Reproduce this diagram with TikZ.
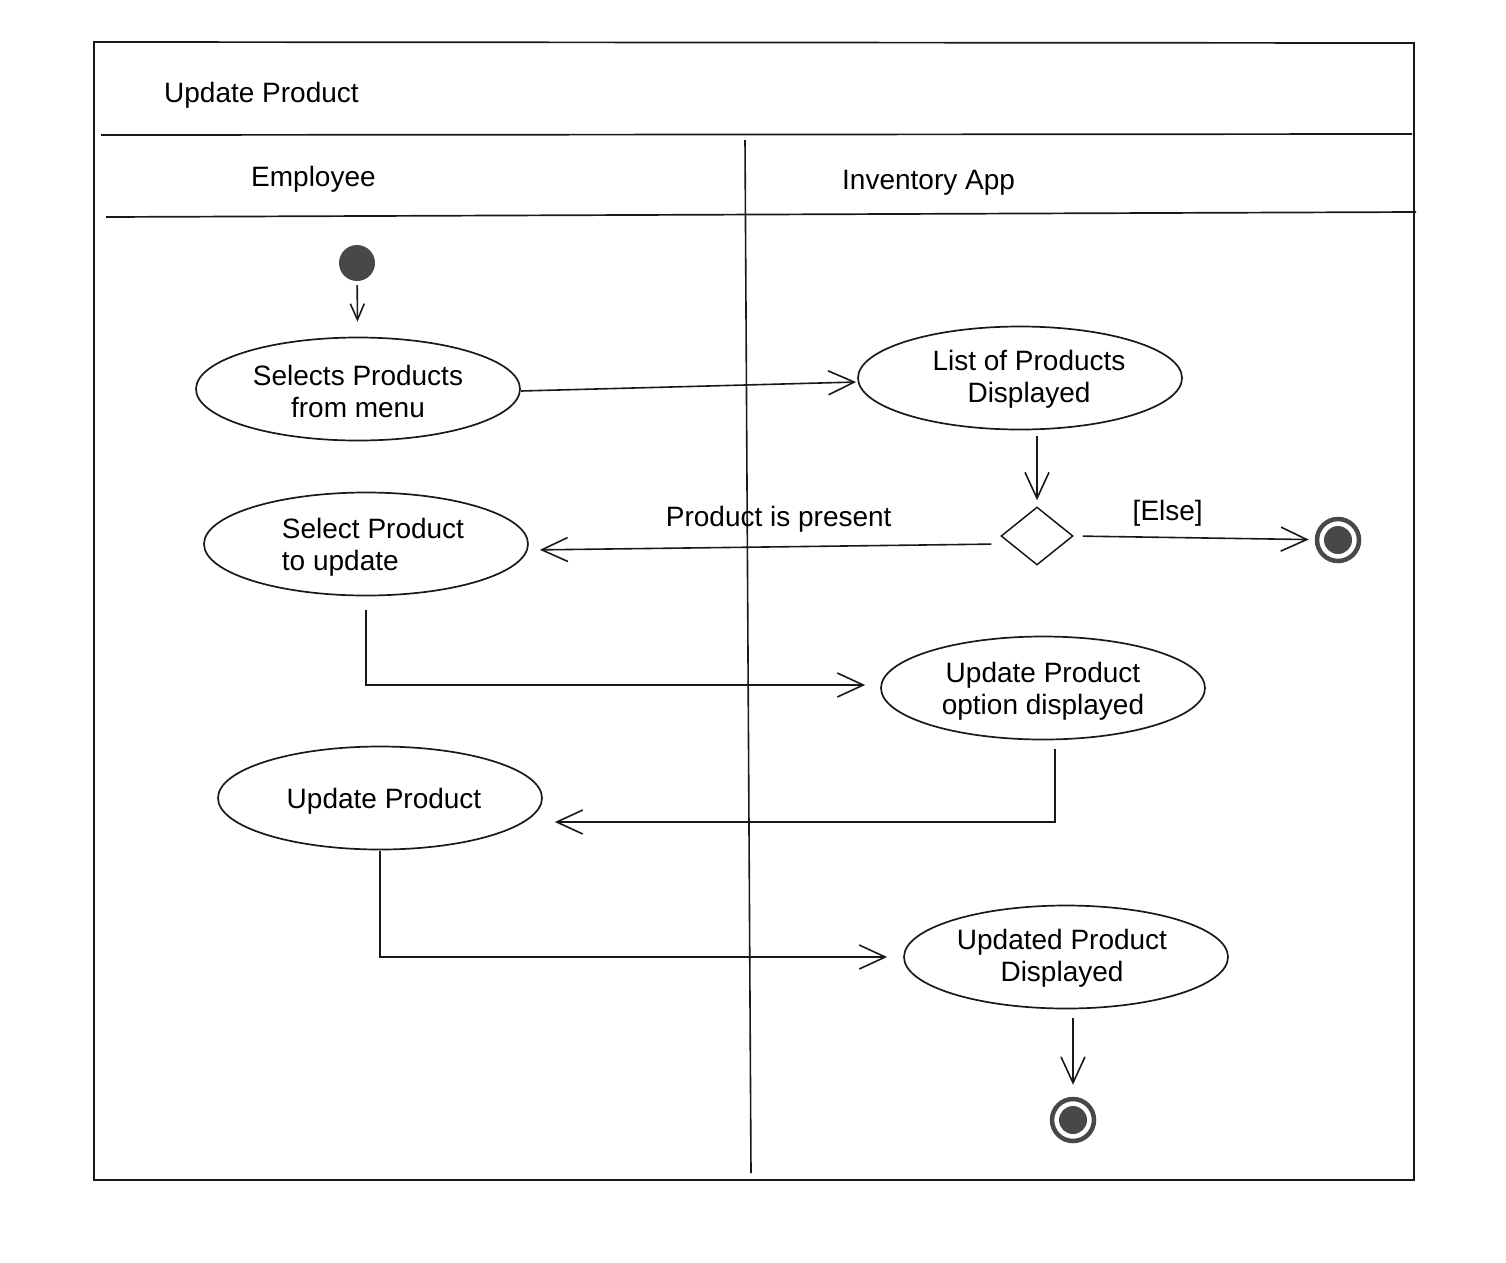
\documentclass[tikz,border=0pt]{standalone}
\usepackage{fontspec}
\setmainfont{Liberation Sans}
\usetikzlibrary{shapes.geometric,arrows.meta}
\definecolor{dk}{RGB}{72,72,72}
\definecolor{ink}{RGB}{25,25,25}
\begin{document}
\begin{tikzpicture}[x=1pt,y=-1pt,
  font=\fontsize{28}{32}\selectfont,
  frameline/.style={line width=1.7pt, draw=ink},
  act/.style={ellipse, draw=ink, line width=1.7pt, minimum width=324pt, minimum height=103pt, inner sep=0pt},
  txt/.style={align=center, inner sep=0pt},
  hdr/.style={anchor=west, inner sep=0pt},
  lbl/.style={inner sep=0pt},
  decision/.style={diamond, draw=ink, line width=1.5pt, minimum width=72pt, minimum height=58pt, inner sep=0pt},
  startnode/.style={circle, fill=dk, minimum size=36pt, inner sep=0pt},
  endnode/.style={circle, draw=dk, line width=4.5pt, minimum size=42pt, inner sep=0pt,
    path picture={\fill[dk] (path picture bounding box.center) circle (14pt);}},
  flow/.style={line width=1.6pt, draw=ink, -{Straight Barb[length=26pt,width=24pt]}},
  smallflow/.style={line width=1.6pt, draw=ink, -{Straight Barb[length=16pt,width=14pt]}}
]
\useasboundingbox (0,0) rectangle (1506,1262);

% frame
\draw[frameline] (94,42) -- (1414,43) -- (1414,1180) -- (94,1180) -- cycle;
\draw[frameline] (101,135) -- (1412,134);
\draw[frameline] (106,217) -- (1416,212);
\draw[line width=1.6pt, draw=ink] (745,140) -- (751,1173);

% headers
\node[hdr] (title) at (164,95) {Update Product};
\node[hdr] (lane1) at (251,179) {Employee};
\node[hdr] (lane2) at (842,183) {Inventory App};

% nodes
\node[startnode] (start) at (357,263) {};
\node[act] (e1) at (358,389) {};
\node[txt] (t1) at (358,391) {Selects Products\\from menu};
\node[act] (e2) at (1020,378) {};
\node[txt] (t2) at (1029,379) {List of Products\\Displayed};
\node[decision] (dia) at (1037,536) {};
\node[endnode] (end1) at (1338,540) {};
\node[act] (e3) at (366,544) {};
\node[txt, align=left] (t3) at (373,547) {Select Product\\to update};
\node[act] (e4) at (1043,688) {};
\node[txt] (t4) at (1043,691) {Update Product\\option displayed};
\node[act] (e5) at (380,798) {};
\node[txt] (t5) at (384,801) {Update Product};
\node[act] (e6) at (1066,957) {};
\node[txt] (t6) at (1062,958) {Updated Product\\Displayed};
\node[endnode] (end2) at (1073,1120) {};

\coordinate (c7) at (1055,822);

% connectors
\draw[smallflow, shorten <=4pt, shorten >=15pt] (start) -- (e1);
\draw[flow, shorten >=1pt] ([yshift=-2pt]e1.east) -- ([yshift=-4pt]e2.west);
\draw[flow, shorten <=6pt, shorten >=6pt] (e2.south -| dia) -- (dia.north);
\draw[flow, shorten <=9pt, shorten >=11pt] ([yshift=-8pt]dia.west) -- node[lbl, pos=0.47, above=14pt] (l1) {Product is present} ([yshift=-6pt]e3.east);
\draw[flow, shorten <=9pt, shorten >=6pt] (dia.east) -- node[lbl, pos=0.39, above=10pt] (l2) {[Else]} (end1);
\draw[flow, shorten <=14pt, shorten >=15pt] (e3.south) |- ([yshift=3pt]e4.west);
\draw[flow, shorten <=9pt, shorten >=12pt] (e4.south -| c7) -- (c7) -- (c7 -| e5.east);
\draw[flow, shorten <=1pt, shorten >=16pt] (e5.south) |- (e6.west);
\draw[flow, shorten <=9pt, shorten >=12pt] (e6.south -| end2) -- (end2.north);
\end{tikzpicture}
\end{document}
